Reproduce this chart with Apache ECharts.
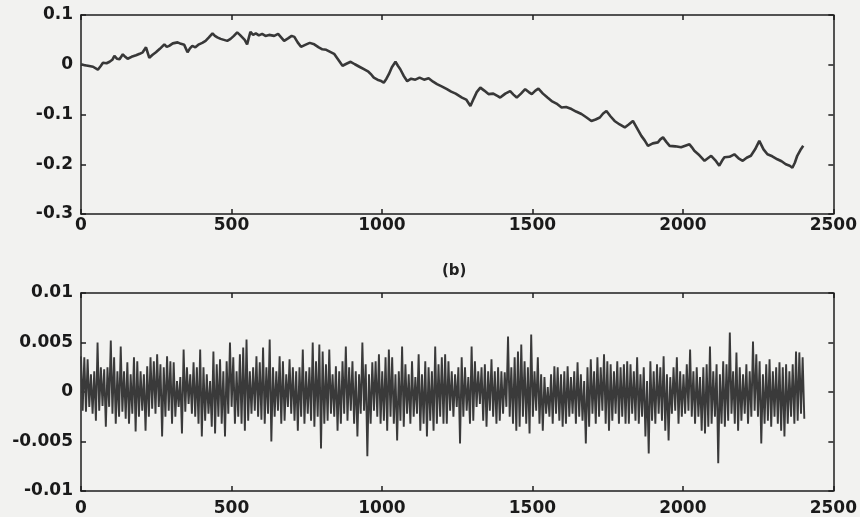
<!DOCTYPE html>
<html>
<head>
<meta charset="utf-8">
<script src="https://cdn.jsdelivr.net/npm/echarts@6/dist/echarts.min.js"></script>
<style>
html,body{margin:0;padding:0;background:#f2f2f0;}
#c{width:860px;height:517px;}
</style>
</head>
<body>
<div id="c"></div>
<script>
// ---- top panel: cumulative series (sample index, value) ----
var topIdx = [0,12,23,40,56,65,73,85,95,104,111,120,128,139,147,155,168,183,195,205,216,227,238,249,262,277,285,293,305,321,332,343,354,362,370,380,392,403,414,425,437,445,453,464,475,486,497,508,519,528,536,544,552,558,563,572,581,591,602,613,625,642,655,665,675,688,700,709,720,731,745,760,775,790,802,815,828,841,855,869,882,896,910,925,940,955,965,973,985,995,1006,1015,1023,1033,1045,1053,1061,1072,1084,1097,1111,1125,1140,1155,1170,1183,1200,1216,1230,1245,1266,1280,1294,1305,1315,1327,1340,1354,1370,1385,1393,1410,1426,1437,1448,1462,1476,1488,1498,1510,1520,1535,1550,1564,1580,1597,1612,1630,1645,1663,1680,1696,1710,1724,1735,1746,1760,1773,1790,1807,1820,1834,1848,1862,1873,1884,1900,1917,1925,1934,1945,1956,1975,1994,2008,2022,2030,2038,2055,2072,2083,2094,2108,2121,2130,2138,2155,2171,2185,2199,2212,2226,2240,2254,2268,2281,2297,2314,2328,2342,2355,2364,2372,2380,2390,2400];
var topVal = [0.001,-0.001,-0.002,-0.004,-0.010,-0.003,0.004,0.003,0.006,0.010,0.018,0.012,0.011,0.021,0.016,0.012,0.016,0.019,0.022,0.025,0.035,0.014,0.020,0.025,0.032,0.041,0.036,0.038,0.043,0.045,0.042,0.040,0.025,0.033,0.038,0.035,0.041,0.044,0.048,0.055,0.063,0.058,0.055,0.052,0.050,0.048,0.052,0.058,0.065,0.060,0.055,0.050,0.041,0.055,0.066,0.060,0.063,0.059,0.062,0.058,0.060,0.058,0.062,0.055,0.048,0.053,0.058,0.056,0.045,0.036,0.040,0.044,0.041,0.035,0.031,0.030,0.026,0.022,0.010,-0.002,0.002,0.006,0.001,-0.004,-0.009,-0.014,-0.020,-0.026,-0.030,-0.032,-0.036,-0.028,-0.019,-0.005,0.006,-0.002,-0.009,-0.022,-0.033,-0.028,-0.030,-0.026,-0.030,-0.027,-0.034,-0.039,-0.044,-0.049,-0.054,-0.058,-0.066,-0.070,-0.083,-0.068,-0.055,-0.046,-0.052,-0.059,-0.058,-0.063,-0.066,-0.058,-0.053,-0.060,-0.066,-0.058,-0.049,-0.055,-0.059,-0.052,-0.048,-0.058,-0.066,-0.073,-0.078,-0.086,-0.085,-0.089,-0.094,-0.099,-0.106,-0.113,-0.110,-0.106,-0.098,-0.093,-0.104,-0.113,-0.120,-0.126,-0.120,-0.113,-0.128,-0.143,-0.152,-0.163,-0.158,-0.156,-0.150,-0.146,-0.155,-0.163,-0.164,-0.166,-0.163,-0.160,-0.166,-0.173,-0.182,-0.193,-0.188,-0.183,-0.192,-0.203,-0.193,-0.186,-0.185,-0.180,-0.188,-0.193,-0.187,-0.183,-0.170,-0.153,-0.170,-0.180,-0.184,-0.190,-0.194,-0.200,-0.203,-0.207,-0.197,-0.183,-0.172,-0.163];

// ---- bottom panel: increments, read as column envelopes (every 11 samples) ----
var botStep = 11;
var botHigh = [
0.0036,0.0035,0.0033,0.0018,0.0021,0.0050,0.0025,0.0023,0.0025,0.0052,0.0035,0.0021,0.0046,0.0021,0.0030,0.0018,0.0035,0.0031,0.0021,0.0018,0.0026,0.0035,0.0031,0.0038,0.0028,0.0025,0.0036,0.0031,0.0030,0.0011,0.0015,0.0043,0.0025,0.0018,0.0030,0.0025,0.0043,0.0025,0.0018,0.0011,0.0041,0.0028,0.0033,0.0021,0.0031,0.0050,0.0035,0.0021,0.0038,0.0045,0.0053,0.0021,0.0025,0.0036,0.0030,
0.0045,0.0025,0.0053,0.0025,0.0021,0.0036,0.0031,0.0018,0.0033,0.0025,0.0021,0.0025,0.0043,0.0021,0.0025,0.0050,0.0031,0.0048,0.0041,0.0028,0.0043,0.0018,0.0026,0.0021,0.0031,0.0046,0.0025,0.0031,0.0021,0.0018,0.0050,0.0028,0.0018,0.0030,0.0031,0.0038,0.0021,0.0035,0.0043,0.0035,0.0018,0.0021,0.0046,0.0028,0.0018,0.0031,0.0015,0.0038,0.0018,0.0031,0.0025,0.0021,0.0046,0.0028,0.0035,
0.0038,0.0031,0.0021,0.0018,0.0025,0.0035,0.0025,0.0015,0.0046,0.0031,0.0021,0.0025,0.0028,0.0021,0.0033,0.0021,0.0025,0.0021,0.0020,0.0056,0.0025,0.0035,0.0041,0.0048,0.0031,0.0025,0.0058,0.0021,0.0035,0.0018,0.0015,0.0005,0.0018,0.0026,0.0025,0.0018,0.0021,0.0026,0.0015,0.0021,0.0030,0.0018,0.0011,0.0025,0.0033,0.0021,0.0035,0.0025,0.0038,0.0031,0.0028,0.0021,0.0031,0.0025,0.0028,
0.0031,0.0028,0.0021,0.0035,0.0018,0.0025,0.0011,0.0031,0.0021,0.0028,0.0025,0.0036,0.0018,0.0015,0.0025,0.0035,0.0021,0.0018,0.0028,0.0043,0.0021,0.0025,0.0015,0.0025,0.0028,0.0046,0.0021,0.0028,0.0018,0.0031,0.0028,0.0060,0.0021,0.0040,0.0025,0.0018,0.0028,0.0021,0.0051,0.0038,0.0031,0.0018,0.0028,0.0033,0.0021,0.0025,0.0030,0.0025,0.0028,0.0021,0.0028,0.0041,0.0040,0.0035];
var botLow = [
-0.0019,-0.0020,-0.0015,-0.0022,-0.0029,-0.0019,-0.0014,-0.0035,-0.0015,-0.0022,-0.0032,-0.0025,-0.0020,-0.0027,-0.0032,-0.0022,-0.0040,-0.0025,-0.0019,-0.0039,-0.0025,-0.0017,-0.0022,-0.0015,-0.0045,-0.0025,-0.0019,-0.0032,-0.0025,-0.0015,-0.0042,-0.0020,-0.0012,-0.0022,-0.0025,-0.0032,-0.0045,-0.0029,-0.0022,-0.0035,-0.0042,-0.0025,-0.0032,-0.0045,-0.0022,-0.0015,-0.0032,-0.0025,-0.0032,-0.0039,-0.0029,-0.0022,-0.0019,-0.0025,-0.0028,
-0.0032,-0.0022,-0.0050,-0.0025,-0.0019,-0.0032,-0.0029,-0.0015,-0.0022,-0.0029,-0.0039,-0.0025,-0.0032,-0.0022,-0.0029,-0.0035,-0.0025,-0.0057,-0.0032,-0.0029,-0.0022,-0.0025,-0.0039,-0.0032,-0.0022,-0.0029,-0.0019,-0.0032,-0.0045,-0.0022,-0.0019,-0.0065,-0.0032,-0.0019,-0.0025,-0.0032,-0.0029,-0.0039,-0.0025,-0.0032,-0.0049,-0.0029,-0.0035,-0.0022,-0.0032,-0.0025,-0.0022,-0.0039,-0.0032,-0.0045,-0.0029,-0.0039,-0.0032,-0.0025,-0.0032,
-0.0032,-0.0019,-0.0025,-0.0015,-0.0052,-0.0025,-0.0019,-0.0032,-0.0029,-0.0015,-0.0012,-0.0029,-0.0035,-0.0019,-0.0025,-0.0032,-0.0029,-0.0022,-0.0015,-0.0025,-0.0032,-0.0039,-0.0035,-0.0025,-0.0032,-0.0042,-0.0025,-0.0019,-0.0032,-0.0039,-0.0022,-0.0025,-0.0032,-0.0022,-0.0029,-0.0035,-0.0032,-0.0025,-0.0022,-0.0032,-0.0025,-0.0029,-0.0052,-0.0035,-0.0022,-0.0032,-0.0025,-0.0019,-0.0032,-0.0039,-0.0029,-0.0022,-0.0032,-0.0025,-0.0032,
-0.0032,-0.0022,-0.0029,-0.0032,-0.0025,-0.0045,-0.0062,-0.0029,-0.0032,-0.0022,-0.0029,-0.0039,-0.0049,-0.0022,-0.0019,-0.0032,-0.0025,-0.0022,-0.0019,-0.0025,-0.0032,-0.0025,-0.0039,-0.0042,-0.0035,-0.0032,-0.0025,-0.0072,-0.0032,-0.0035,-0.0029,-0.0022,-0.0032,-0.0039,-0.0029,-0.0022,-0.0032,-0.0025,-0.0019,-0.0025,-0.0052,-0.0032,-0.0029,-0.0035,-0.0025,-0.0032,-0.0039,-0.0045,-0.0032,-0.0025,-0.0032,-0.0029,-0.0022,-0.0027];

// ---- axes ----
var xTicks = [0, 500, 1000, 1500, 2000, 2500];
var topYTicks = [-0.3, -0.2, -0.1, 0, 0.1];
var botYTicks = [-0.01, -0.005, 0, 0.005, 0.01];
var panelLabel = '(b)';

var topData = topIdx.map(function (x, i) { return [x, topVal[i]]; });
var botData = [];
for (var k = 0; k < botHigh.length; k++) {
  botData.push([k * botStep, botHigh[k]]);
  botData.push([k * botStep + botStep / 2, botLow[k]]);
}

var FONT = 'DejaVu Sans';
var AX = '#1e1e1e';
function fmtY(v) { return String(Math.round(v * 1000) / 1000); }
function fmtX(v) { return String(Math.round(v)); }

function xAx(grid, pos, labels, margin) {
  return {
    type: 'value', gridIndex: grid, position: pos,
    min: xTicks[0], max: xTicks[xTicks.length - 1], interval: xTicks[1] - xTicks[0],
    axisLine: { show: true, onZero: false, lineStyle: { color: AX, width: 1.5 } },
    axisTick: { show: true, inside: true, length: 5, lineStyle: { color: AX, width: 1.5 } },
    axisLabel: { show: labels, margin: margin || 4, formatter: fmtX, fontFamily: FONT, fontWeight: 'bold', fontSize: 17, color: '#1a1a1a' },
    splitLine: { show: false }
  };
}
function yAx(grid, pos, ticks, labels) {
  return {
    type: 'value', gridIndex: grid, position: pos,
    min: ticks[0], max: ticks[ticks.length - 1], interval: ticks[1] - ticks[0],
    axisLine: { show: true, onZero: false, lineStyle: { color: AX, width: 1.5 } },
    axisTick: { show: true, inside: true, length: 5, lineStyle: { color: AX, width: 1.5 } },
    axisLabel: { show: labels, margin: 8, formatter: fmtY, fontFamily: FONT, fontWeight: 'bold', fontSize: 17, color: '#1a1a1a' },
    splitLine: { show: false }
  };
}

var chart = echarts.init(document.getElementById('c'), null, { renderer: 'canvas' });
chart.setOption({
  backgroundColor: '#f2f2f0',
  animation: false,
  grid: [
    { left: 81, right: 24, top: 15, height: 199 },
    { left: 81, right: 24, top: 293, height: 199 }
  ],
  xAxis: [xAx(0, 'bottom', true, 3), xAx(0, 'top', false), xAx(1, 'bottom', true, 9), xAx(1, 'top', false)],
  yAxis: [yAx(0, 'left', topYTicks, true), yAx(0, 'right', topYTicks, false), yAx(1, 'left', botYTicks, true), yAx(1, 'right', botYTicks, false)],
  graphic: [{
    type: 'text', left: 442, top: 264,
    style: { text: panelLabel, font: 'bold 15px "DejaVu Sans"', fill: '#222' }
  }],
  series: [
    { type: 'line', xAxisIndex: 0, yAxisIndex: 0, data: topData, showSymbol: false,
      lineStyle: { color: '#383838', width: 2.6 } },
    { type: 'line', xAxisIndex: 2, yAxisIndex: 2, data: botData, showSymbol: false,
      lineStyle: { color: '#3a3a3a', width: 1.9 } }
  ]
});
</script>
</body>
</html>
